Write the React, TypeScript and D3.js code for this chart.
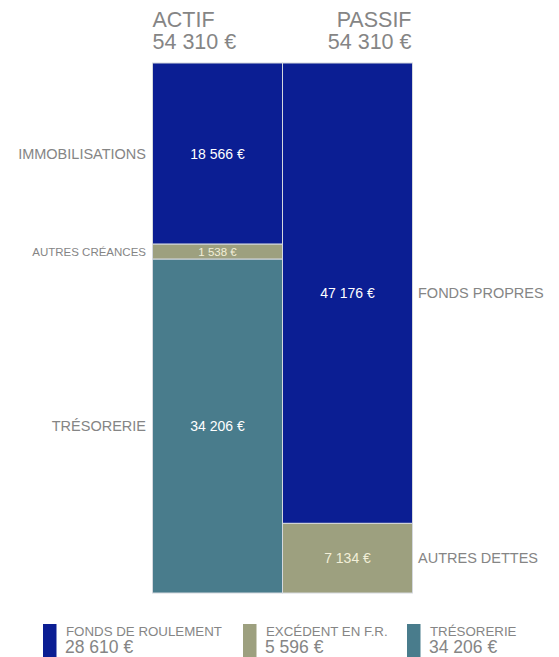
import React from "react";
import * as d3 from "d3";

const actifLabels = ["IMMOBILISATIONS", "AUTRES CRÉANCES", "TRÉSORERIE"];
const actifValues = [18566, 1538, 34206];
const passifLabels = ["FONDS PROPRES", "AUTRES DETTES"];
const passifValues = [47176, 7134];
const actifColors = ["#0b1e93", "#9da07f", "#497c8c"];
const passifColors = ["#0b1e93", "#9da07f"];
const legendLabels = ["FONDS DE ROULEMENT", "EXCÉDENT EN F.R.", "TRÉSORERIE"];
const legendValues = [28610, 5596, 34206];
const legendColors = ["#0b1e93", "#9da07f", "#497c8c"];
const totalActif = 54310;
const totalPassif = 54310;

const fmt = (v: number) => d3.format(",")(v).replace(/,/g, " ") + " €";

function stack(values: number[]) {
  let acc = 0;
  return values.map((v) => {
    const s = { y0: acc, y1: acc + v, v };
    acc += v;
    return s;
  });
}

export default function App() {
  const W = 559, H = 657;
  const y = d3.scaleLinear().domain([0, totalActif]).range([63, 593]);
  const x = d3.scaleBand().domain(["actif", "passif"]).range([152.5, 412.5]).paddingInner(0.0);
  const font = "'Liberation Sans', Arial, sans-serif";
  const gray = "#858585";
  const aStack = stack(actifValues);
  const pStack = stack(passifValues);
  const xa = x("actif")!, xp = x("passif")!, bw = x.bandwidth();
  const legendX = [43, 243, 407];

  return (
    <svg width={W} height={H} style={{ position: "absolute", left: 0, top: 0 }} fontFamily={font}>
      <text x={xa} y={27} fontSize={21.5} fill={gray}>ACTIF</text>
      <text x={xa} y={49} fontSize={21.5} fill={gray}>{fmt(totalActif)}</text>
      <text x={xp + bw - 1} y={27} fontSize={21.5} fill={gray} textAnchor="end">PASSIF</text>
      <text x={xp + bw - 1} y={49} fontSize={21.5} fill={gray} textAnchor="end">{fmt(totalPassif)}</text>

      {aStack.map((s, i) => {
        const y0 = y(s.y0), y1 = y(s.y1);
        const cy = (y0 + y1) / 2;
        const small = i === 1;
        return (
          <g key={"a" + i}>
            <rect x={xa} y={y0} width={bw} height={y1 - y0} fill={actifColors[i]} stroke="#d4d8de" strokeWidth={1} />
            <text x={xa + bw / 2} y={cy} dy="0.36em" textAnchor="middle" fontSize={small ? 11.5 : 14}
              fill={small ? "#f2efd8" : "#ffffff"}>{fmt(s.v)}</text>
            <text x={146} y={cy} dy="0.36em" textAnchor="end" fontSize={small ? 11.5 : 14.5} fill={gray}>{actifLabels[i]}</text>
          </g>
        );
      })}
      {pStack.map((s, i) => {
        const y0 = y(s.y0), y1 = y(s.y1);
        const cy = (y0 + y1) / 2;
        return (
          <g key={"p" + i}>
            <rect x={xp} y={y0} width={bw} height={y1 - y0} fill={passifColors[i]} stroke="#d4d8de" strokeWidth={1} />
            <text x={xp + bw / 2} y={cy} dy="0.36em" textAnchor="middle" fontSize={14}
              fill={i === 1 ? "#f2efd8" : "#ffffff"}>{fmt(s.v)}</text>
            <text x={418} y={cy} dy="0.36em" fontSize={14.5} fill={gray}>{passifLabels[i]}</text>
          </g>
        );
      })}

      {legendLabels.map((l, i) => (
        <g key={"l" + i}>
          <rect x={legendX[i]} y={624} width={13.5} height={33} fill={legendColors[i]} />
          <text x={legendX[i] + 23} y={635.5} fontSize={13.3} fill={gray}>{l}</text>
          <text x={legendX[i] + 22} y={653} fontSize={17.5} fill={gray}>{fmt(legendValues[i])}</text>
        </g>
      ))}
    </svg>
  );
}
